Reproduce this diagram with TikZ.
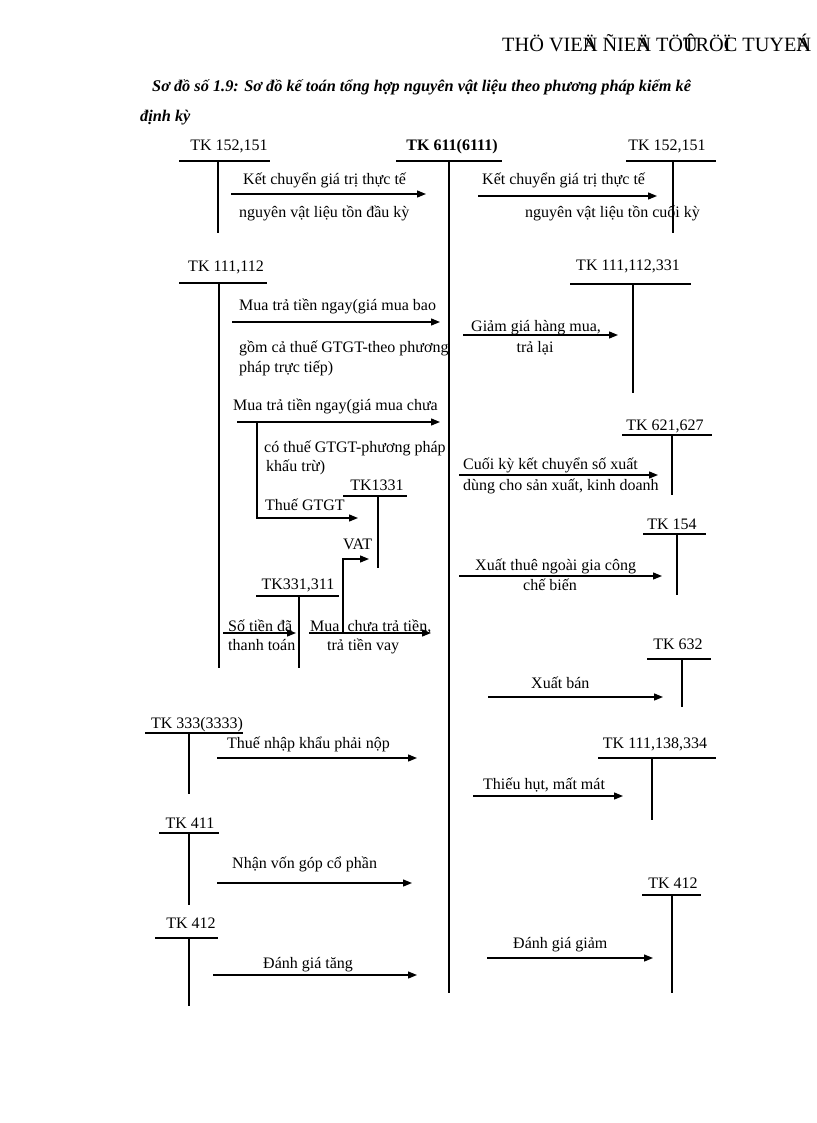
\documentclass[tikz,border=0pt]{standalone}
\usepackage{fontspec}
\setmainfont{Liberation Serif}
\usetikzlibrary{arrows.meta}
\newcommand\tacc[9]{%
  \node[lab, anchor=base] (#1) at (#2,#3) {#4};
  \coordinate (#1L) at (#5,#7); \coordinate (#1R) at (#6,#7);
  \coordinate (#1T) at (#8,#7); \coordinate (#1B) at (#8,#9);
  \draw[bar] (#1L) -- (#1R);
  \draw[stem] (#1T) -- (#1B);}
\begin{document}
\begin{tikzpicture}[x=1pt,y=-1pt,
  lab/.style={inner sep=0pt, font=\fontsize{16}{19}\selectfont},
  txt/.style={inner sep=0pt, anchor=base west, font=\fontsize{16}{19}\selectfont},
  ctxt/.style={inner sep=0pt, anchor=base, font=\fontsize{16}{19}\selectfont},
  bar/.style={line width=1.8pt},
  stem/.style={line width=1.5pt},
  arr/.style={line width=1.3pt, -{Triangle[length=9pt,width=7pt]}}]
\fill[white] (0,0) rectangle (816,1123);
\useasboundingbox (0,0) rectangle (816,1123);
% header
\node[inner sep=0pt, anchor=base west, font=\fontsize{20.3}{24}\selectfont] (hdr) at (502,52)
  {THÖ VIE\rlap{Ä}N ÑIE\rlap{Ä}N TÖ\rlap{Û}TRÖ\rlap{Ï}C TUYE\rlap{Á}N};
% title
\node[txt, font=\fontsize{16.3}{19}\selectfont\bfseries\itshape] (title1) at (152,92)
  {Sơ đồ số 1.9: Sơ đồ kế toán tổng hợp nguyên vật liệu theo phương pháp kiểm kê};
\node[txt, font=\fontsize{16.3}{19}\selectfont\bfseries\itshape] (title2) at (140,122) {định kỳ};
% T accounts
\tacc{tkA}{229}{151}{TK 152,151}{179}{270}{161}{218}{233}
\tacc{tkB}{452}{151}{\textbf{TK 611(6111)}}{396}{502}{161}{449}{993}
\tacc{tkC}{667}{151}{TK 152,151}{626}{716}{161}{673}{233}
\tacc{tkD}{226}{271}{TK 111,112}{179}{267}{283}{219}{668}
\tacc{tkE}{628}{270}{TK 111,112,331}{570}{691}{284}{633}{393}
\tacc{tkF}{377}{490}{TK1331}{343}{407}{496}{378}{568}
\tacc{tkG}{298}{589}{TK331,311}{256}{339}{596}{299}{668}
\tacc{tkH}{665}{430}{TK 621,627}{622}{712}{435}{672}{495}
\tacc{tkI}{672}{529}{TK 154}{643}{706}{534}{677}{595}
\tacc{tkJ}{678}{649}{TK 632}{647}{711}{659}{682}{707}
\tacc{tkK}{655}{748}{TK 111,138,334}{598}{716}{758}{652}{820}
\tacc{tkL}{197}{728}{TK 333(3333)}{145}{243}{733}{189}{794}
\tacc{tkM}{190}{828}{TK 411}{159}{219}{833}{189}{905}
\tacc{tkN}{673}{888}{TK 412}{642}{701}{895}{672}{993}
\tacc{tkO}{191}{928}{TK 412}{155}{218}{938}{189}{1006}
% 1
\coordinate (a1s) at (231,194); \coordinate (a1e) at (426,194);
\draw[arr] (a1s) -- (a1e);
\node[txt] (t1a) at (243,185) {Kết chuyển giá trị thực tế};
\node[txt] (t1b) at (239,218) {nguyên vật liệu tồn đầu kỳ};
% 2
\coordinate (a2s) at (478,196); \coordinate (a2e) at (657,196);
\draw[arr] (a2s) -- (a2e);
\node[txt] (t2a) at (482,185) {Kết chuyển giá trị thực tế};
\node[txt] (t2b) at (525,218) {nguyên vật liệu tồn cuối kỳ};
% 3
\coordinate (a3s) at (232,322); \coordinate (a3e) at (440,322);
\draw[arr] (a3s) -- (a3e);
\node[txt] (t3a) at (239,310) {Mua trả tiền ngay(giá mua bao};
\node[txt] (t3b) at (239,352) {gồm cả thuế GTGT-theo phương};
\node[txt] (t3c) at (239,372) {pháp trực tiếp)};
% 4
\coordinate (a4s) at (463,335); \coordinate (a4e) at (618,335);
\draw[arr] (a4s) -- (a4e);
\node[txt] (t4a) at (471,331) {Giảm giá hàng mua,};
\node[ctxt] (t4b) at (535,352) {trả lại};
% 5
\coordinate (a5s) at (237,422); \coordinate (a5e) at (440,422);
\draw[arr] (a5s) -- (a5e);
\node[txt] (t5a) at (233,410) {Mua trả tiền ngay(giá mua chưa};
\coordinate (b5a) at (257,422); \coordinate (b5b) at (257,518); \coordinate (b5c) at (358,518);
\draw[arr] (b5a) -- (b5b) -- (b5c);
\node[txt] (t5b) at (264,452) {có thuế GTGT-phương pháp};
\node[txt] (t5c) at (266,471) {khấu trừ)};
\node[txt] (t5d) at (265,510) {Thuế GTGT};
% 6 VAT
\coordinate (v6a) at (343,632); \coordinate (v6b) at (343,559); \coordinate (v6c) at (369,559);
\draw[arr] (v6a) -- (v6b) -- (v6c);
\node[txt] (t6) at (343,549) {VAT};
% 7
\coordinate (a7s) at (223,633); \coordinate (a7e) at (296,633);
\draw[arr] (a7s) -- (a7e);
\node[txt] (t7a) at (228,631) {Số tiền đã};
\node[txt] (t7b) at (228,650) {thanh toán};
% 8
\coordinate (a8s) at (309,633); \coordinate (a8e) at (431,633);
\draw[arr] (a8s) -- (a8e);
\node[txt] (t8a) at (310,631) {Mua~~chưa trả tiền,};
\node[txt] (t8b) at (327,650) {trả tiền vay};
% 9
\coordinate (a9s) at (459,475); \coordinate (a9e) at (658,475);
\draw[arr] (a9s) -- (a9e);
\node[txt] (t9a) at (463,469) {Cuối kỳ kết chuyển số xuất};
\node[txt] (t9b) at (463,490) {dùng cho sản xuất, kinh doanh};
% 10
\coordinate (a10s) at (459,576); \coordinate (a10e) at (662,576);
\draw[arr] (a10s) -- (a10e);
\node[txt] (t10a) at (475,570) {Xuất thuê ngoài gia công};
\node[txt] (t10b) at (523,590) {chế biến};
% 11
\coordinate (a11s) at (488,697); \coordinate (a11e) at (663,697);
\draw[arr] (a11s) -- (a11e);
\node[txt] (t11) at (531,688) {Xuất bán};
% 12
\coordinate (a12s) at (217,758); \coordinate (a12e) at (417,758);
\draw[arr] (a12s) -- (a12e);
\node[txt] (t12) at (227,748) {Thuế nhập khẩu phải nộp};
% 13
\coordinate (a13s) at (473,796); \coordinate (a13e) at (623,796);
\draw[arr] (a13s) -- (a13e);
\node[txt] (t13) at (483,789) {Thiếu hụt, mất mát};
% 14
\coordinate (a14s) at (217,883); \coordinate (a14e) at (412,883);
\draw[arr] (a14s) -- (a14e);
\node[txt] (t14) at (232,868) {Nhận vốn góp cổ phần};
% 15
\coordinate (a15s) at (487,958); \coordinate (a15e) at (653,958);
\draw[arr] (a15s) -- (a15e);
\node[txt] (t15) at (513,948) {Đánh giá giảm};
% 16
\coordinate (a16s) at (213,975); \coordinate (a16e) at (417,975);
\draw[arr] (a16s) -- (a16e);
\node[txt] (t16) at (263,968) {Đánh giá tăng};
\end{tikzpicture}
\end{document}
